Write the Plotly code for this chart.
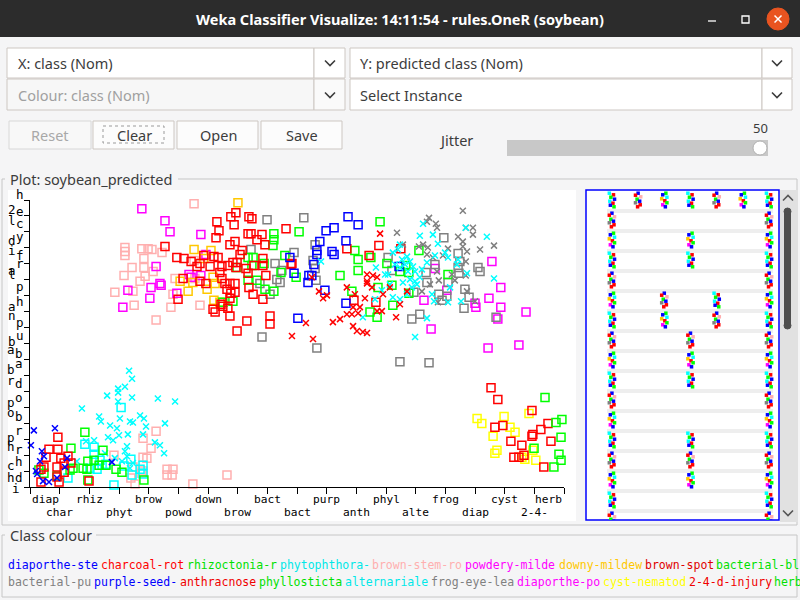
import plotly.graph_objects as go

W, H = 800, 600
BG = "#f5f5f6"
UI_FONT = "Noto Sans"
MONO = "DejaVu Sans Mono"

# ---- class axis labels (actual class on X) ----
x_labels = ["diap", "char", "rhiz", "phyt", "brow", "powd", "down", "brow", "bact", "bact",
            "purp", "anth", "phyl", "alte", "frog", "diap", "cyst", "2-4-", "herb"]

# y axis label fragments as Weka draws them (char, x px, y px)
y_label_bits = [("h", 20, 195), ("2", 12, 209), ("e", 20, 211), ("l", 12, 220), ("c", 20, 224),
                ("d", 12, 240), ("y", 20, 236), ("i", 12, 250), ("f", 20, 255), ("a", 12, 270),
                ("r", 20, 263), ("l", 12, 274), ("p", 20, 287), ("a", 12, 306), ("h", 20, 301),
                ("n", 12, 316), ("p", 20, 322), ("b", 12, 341), ("u", 20, 335), ("a", 11, 349),
                ("b", 19, 353), ("b", 11, 369), ("a", 19, 363), ("r", 11, 380), ("d", 19, 383),
                ("p", 11, 402), ("o", 19, 397), ("o", 11, 412), ("b", 19, 417), ("p", 11, 437),
                ("r", 19, 430), ("h", 11, 446), ("r", 19, 449), ("c", 11, 466), ("h", 19, 461),
                ("h", 11, 477), ("d", 19, 477), ("i", 16, 489)]

# ---- jittered points: x = actual class index, y = predicted class index ----
blue_cross_x = [0.13, 0.03, -0.03, 0.84, 0.40, 0.47, 0.20, 0.24, 0.64, 1.25, 1.18, 0.44, 0.91, 0.34, 2.76]
blue_cross_y = [3.55, 2.62, 1.50, 3.68, 2.24, 1.93, 1.00, 0.81, 0.31, 1.81, 1.25, 0.37, 0.56, 1.62, 1.56]

red_sq_low_x = [0.94, 0.64, 0.94, 0.54, 1.04, 1.28, 1.38, 1.15, 0.91, 0.47, 0.37, 1.15, 0.91, 0.37, 0.98, 1.99]
red_sq_low_y = [3.12, 2.37, 2.37, 1.87, 1.81, 1.93, 1.50, 1.50, 1.25, 1.25, 1.12, 0.93, 0.62, 0.31, 0.31, 0.37]

red_sq_up_x = [6.94, 6.77, 7.38, 7.48, 6.30, 6.88, 6.37, 7.35, 7.45, 7.82, 6.27, 7.65, 6.91, 6.74, 7.92,
               4.55, 7.15, 7.08, 4.95, 5.19, 5.86, 6.20, 6.34, 5.43, 5.73, 5.63, 6.07, 6.47, 6.67, 6.84,
               6.98, 6.94, 7.28, 7.85, 7.55, 7.85, 8.80, 8.63, 5.16, 5.73, 5.93, 6.40, 6.47, 6.57, 6.74,
               6.91, 7.35, 7.95, 7.38, 6.64, 6.77, 6.91, 6.74, 7.52, 7.85, 4.99, 6.44, 6.17, 6.67, 6.24,
               6.74, 7.31, 8.09, 8.09, 6.98, 6.50,
               11.76, 10.68, 12.50, 11.43, 10.92, 11.66, 8.83]
red_sq_up_y = [17.20, 16.95, 16.95, 16.82, 16.64, 16.45, 16.07, 15.89, 15.89, 15.83, 15.64, 15.51, 15.39, 15.20, 15.20,
               15.08, 14.83, 14.58, 14.39, 14.33, 14.52, 14.45, 14.39, 14.14, 14.02, 13.83, 13.83, 13.83, 13.89, 14.08,
               14.08, 13.77, 13.71, 14.33, 13.89, 13.89, 13.96, 16.20, 13.08, 12.90, 12.77, 13.46, 13.08, 12.77, 12.77,
               12.77, 13.40, 13.27, 12.52, 12.40, 12.15, 12.21, 11.84, 12.09, 11.78, 11.78, 11.46, 11.15, 11.21, 10.97,
               10.72, 10.41, 10.72, 10.22, 9.78, 11.34,
               15.14, 14.95, 14.95, 14.52, 11.71, 11.59, 14.02]

red_sq_right_x = [15.54, 15.77, 16.92, 15.94, 15.67, 17.46, 17.22, 16.95, 16.92, 16.21, 16.58, 17.56, 16.31, 16.48, 16.65, 17.32]
red_sq_right_y = [6.23, 5.48, 4.80, 3.86, 3.74, 3.99, 3.61, 3.30, 3.18, 2.87, 2.62, 2.87, 1.87, 1.87, 1.99, 1.25]

green_sq_low_x = [1.85, 1.38, 0.30, 0.47, 1.35, 1.45, 1.79, 1.92, 1.95, 2.46, 2.16, 2.33, 2.56, 2.90, 3.10, 3.84, 1.95, 0.91]
green_sq_low_y = [3.43, 2.43, 1.06, 0.87, 1.06, 1.18, 1.18, 1.12, 1.62, 2.31, 1.68, 1.37, 1.37, 1.12, 0.93, 0.44, 0.44, 0.69]

green_sq_up_x = [8.22, 8.22, 8.19, 9.07, 8.59, 7.35, 7.52, 7.48, 7.89, 7.35, 7.65, 8.46, 8.97, 6.98, 6.84, 8.22, 6.50, 7.92,
                 11.80, 10.95, 11.06, 11.06, 10.45, 11.49, 12.03, 12.67, 12.77, 12.47, 13.11, 12.20, 11.73, 10.85,
                 12.23, 11.46, 11.70, 14.09, 12.77]
green_sq_up_y = [15.89, 15.51, 15.14, 16.01, 14.52, 14.39, 14.39, 13.89, 14.02, 12.96, 12.96, 13.46, 13.15, 13.77, 11.65, 12.27, 11.59, 12.40,
                 16.64, 14.83, 14.27, 13.58, 13.27, 14.39, 14.02, 13.89, 13.46, 13.52, 14.83, 12.65, 12.52, 12.27,
                 11.40, 10.97, 10.65, 13.33, 12.15]

green_sq_right_x = [17.36, 17.73, 17.93, 17.90, 16.99, 17.83, 17.90, 17.66]
green_sq_right_y = [5.61, 4.05, 4.24, 3.12, 2.43, 2.06, 1.68, 1.25]

cyan_sq_x = [1.85, 2.16, 2.16, 2.36, 2.02, 2.26, 2.43, 2.56, 3.17, 3.40, 3.81, 3.71, 3.07, 1.28, 2.83, 3.44, 3.81]
cyan_sq_y = [2.68, 2.49, 2.06, 1.68, 1.18, 1.12, 1.37, 1.43, 1.31, 1.74, 1.37, 1.12, 4.98, 0.56, 0.12, 0.75, 0.81]

cyan_cross_low_x = [3.34, 3.44, 3.20, 2.97, 2.97, 3.44, 2.60, 4.31, 4.89, 2.97, 1.75, 3.03, 2.33, 2.39, 2.70,
                    2.93, 3.37, 3.47, 3.71, 3.84, 3.91, 4.55, 2.63, 2.80, 3.00, 3.30, 3.81, 4.21, 4.38, 4.52,
                    2.16, 1.89, 3.27, 3.20, 3.27, 2.86, 2.53, 3.10, 3.47, 3.37, 1.58]
cyan_cross_low_y = [7.29, 6.79, 6.29, 6.17, 5.92, 5.61, 5.73, 5.55, 5.36, 5.36, 4.92, 4.30, 4.42, 4.11, 3.86,
                    3.68, 4.11, 4.05, 4.49, 4.30, 3.80, 3.99, 3.12, 2.93, 3.24, 3.30, 3.30, 2.80, 2.62, 2.12,
                    2.93, 2.87, 2.55, 2.24, 1.93, 1.81, 2.12, 1.62, 1.50, 1.18, 1.62]

cyan_cross_up_x = [13.25, 13.14, 13.58, 13.75, 14.69, 15.40, 14.39, 14.43, 14.09, 13.99, 13.65, 11.66, 11.97, 12.47, 12.71,
                   12.81, 12.91, 12.98, 12.57, 12.71, 12.47, 12.13, 12.74, 13.04, 13.21, 13.38, 13.55, 13.62, 14.09, 14.53,
                   15.64, 14.73, 14.16, 13.38, 12.98, 9.81, 11.86, 12.23, 11.63, 11.22, 12.40, 12.23, 12.98, 12.47, 12.64,
                   12.30, 12.54, 12.81, 12.07, 13.14, 12.87]
cyan_cross_up_y = [16.51, 15.76, 15.83, 15.26, 16.26, 15.70, 13.96, 14.27, 14.39, 14.70, 14.52, 13.77, 13.33, 15.20, 14.45,
                   14.14, 13.83, 13.52, 12.83, 12.09, 11.78, 12.71, 13.52, 12.71, 13.65, 14.08, 12.09, 11.65, 11.59, 11.65,
                   13.08, 13.40, 12.52, 10.59, 9.41, 14.14, 12.34, 11.90, 11.78, 10.65, 14.89, 14.70, 12.90, 13.77, 13.96,
                   13.96, 14.27, 13.02, 13.33, 13.15, 12.52]

pink_sq_x = [2.83, 3.81, 4.25, 4.08, 3.81, 3.94, 3.47, 3.40, 3.54, 3.77, 4.62, 4.62, 4.82, 4.79, 5.49, 6.64, 3.81,
             5.53, 3.20, 3.20, 3.77, 3.98, 4.11, 4.45, 3.84, 3.44, 3.84, 4.15, 3.17, 3.88, 3.71, 2.86, 3.47,
             3.51, 4.75, 4.25, 5.73, 4.89, 4.82, 5.53, 5.56, 3.20]
pink_sq_y = [1.99, 3.05, 3.49, 2.43, 1.87, 1.81, 1.25, 0.56, 0.19, 0.87, 1.12, 0.75, 1.12, 0.75, 0.19, 0.75, 1.00,
             17.76, 15.02, 14.52, 14.95, 14.95, 14.89, 14.70, 14.33, 13.77, 13.77, 13.52, 13.27, 13.21, 12.90, 12.21, 12.27,
             11.40, 11.28, 10.47, 11.40, 13.08, 12.09, 14.21, 13.08, 14.77]

magenta_sq_x = [3.77, 4.55, 4.72, 5.76, 4.25, 5.36, 5.76, 4.38, 4.42, 4.08, 3.30, 4.04, 3.13, 4.95, 5.43, 5.93,
                15.57, 15.87, 15.47, 15.87, 15.00, 15.03, 16.72, 15.77, 13.52, 15.44, 16.48, 13.65, 14.05, 13.28]
magenta_sq_y = [17.45, 16.70, 16.01, 15.83, 13.83, 13.33, 13.27, 12.77, 12.65, 12.52, 12.34, 11.84, 11.28, 12.15, 13.15, 14.58,
                14.14, 12.52, 11.84, 11.28, 11.53, 11.28, 10.97, 10.53, 9.91, 8.72, 8.91, 13.71, 12.34, 11.71]

orange_sq_x = [7.01, 5.53, 6.10, 5.49, 5.06, 5.33, 5.97, 6.17, 6.24, 6.20, 6.40, 5.86]
orange_sq_y = [17.82, 14.89, 14.83, 12.83, 12.90, 12.27, 12.40, 13.15, 12.77, 11.71, 11.59, 14.33]

gray_sq_x = [7.99, 7.45, 8.90, 8.26, 8.49, 8.32, 8.43, 7.75, 8.09, 7.82,
             9.23, 9.61, 9.54, 9.61, 9.64, 12.07, 12.20, 13.95, 13.65, 13.35, 13.38, 12.94, 13.78, 13.89, 14.05,
             14.43, 14.49, 14.43, 14.46, 14.09, 15.10, 15.17, 14.66, 14.80, 14.63, 13.14, 12.87, 15.71, 9.67, 12.47, 13.45]
gray_sq_y = [16.76, 14.89, 14.70, 14.02, 13.58, 13.02, 12.83, 12.77, 12.09, 9.41,
             16.88, 15.20, 14.21, 13.71, 12.96, 14.39, 13.58, 15.64, 13.96, 13.46, 12.83, 12.21, 12.09, 11.71, 11.96,
             14.64, 14.14, 13.77, 13.40, 12.83, 13.77, 13.52, 12.40, 11.90, 11.21, 10.84, 10.53, 10.65, 8.72, 7.85, 7.79]

blue_sq_x = [8.76, 8.90, 9.03, 10.72, 10.25, 9.98, 11.06, 9.77, 10.65, 9.67, 9.67, 10.18, 10.25, 9.57, 9.40,
             9.50, 9.37, 9.94, 10.65, 12.44]
blue_sq_y = [14.39, 13.40, 10.59, 16.95, 16.26, 16.07, 16.45, 15.39, 15.45, 14.83, 14.58, 14.77, 14.58, 13.96, 13.27,
             13.27, 12.83, 12.34, 11.53, 13.83]

gray_cross_x = [14.59, 13.45, 13.38, 13.68, 13.72, 12.37, 14.69, 14.93, 14.93, 14.43, 14.59, 14.59, 14.73, 15.64, 15.17,
                14.09, 13.92, 13.25, 13.41, 13.38, 13.58, 13.11, 12.57, 13.78, 14.32, 14.69, 14.69, 14.73, 15.00, 13.75,
                13.48, 13.21, 14.22, 13.72]
gray_cross_y = [17.32, 16.88, 16.64, 16.51, 16.26, 15.95, 16.26, 16.26, 15.83, 15.70, 15.39, 15.08, 14.77, 15.14, 14.89,
                14.95, 14.52, 15.20, 15.02, 14.58, 14.39, 15.08, 15.20, 12.96, 12.96, 13.27, 14.14, 12.27, 11.65, 11.59,
                12.71, 12.27, 13.33, 13.52]

red_cross_x = [11.80, 11.36, 11.36, 11.56, 11.70, 11.53, 11.90, 12.13, 12.71, 12.47, 10.95, 10.68, 10.89, 11.12, 11.29,
               11.86, 11.06, 10.68, 10.85, 10.45, 10.21, 10.89, 11.02, 11.22, 11.36, 12.34, 9.74, 9.88, 10.01, 9.30,
               9.54, 8.83, 9.50, 11.36, 11.70]
red_cross_y = [15.89, 13.33, 12.90, 13.27, 13.15, 12.52, 12.09, 12.52, 12.27, 11.46, 12.09, 12.52, 11.28, 11.28, 11.84,
               11.03, 10.90, 10.84, 10.84, 10.53, 10.34, 10.09, 9.78, 9.72, 9.66, 10.65, 12.27, 11.84, 12.02, 10.28,
               9.28, 9.47, 13.15, 12.77, 11.03]

yellow_sq_x = [15.07, 15.23, 15.98, 16.18, 16.35, 15.61, 15.74, 15.67, 16.82, 16.95, 16.68, 17.05, 16.58]
yellow_sq_y = [4.30, 3.99, 4.42, 3.74, 3.43, 3.18, 2.31, 2.12, 4.61, 2.31, 1.74, 1.68, 1.87]

# ---- class colour legend ----
legend_row1 = ["diaporthe-ste", "charcoal-rot", "rhizoctonia-r", "phytophthora-", "brown-stem-ro",
               "powdery-milde", "downy-mildew", "brown-spot", "bacterial-bl"]
legend_row1_col = ["#0000ff", "#ff0000", "#00e000", "#00e8e8", "#ffafaf", "#ff00ff", "#ffc800", "#e00000", "#00e000"]
legend_row1_x = [6, 99, 185, 278, 370, 463, 557, 643, 714]
legend_row2 = ["bacterial-pu", "purple-seed-", "anthracnose", "phyllosticta", "alternariale",
               "frog-eye-lea", "diaporthe-po", "cyst-nematod", "2-4-d-injury", "herbicide-in"]
legend_row2_col = ["#808080", "#0000ff", "#f00000", "#00e000", "#00e8e8", "#808080", "#ff00ff", "#ffff00", "#f00000", "#00e000"]
legend_row2_x = [6, 92, 178, 257, 343, 429, 515, 601, 687, 772]

# ---- attribute panel (right): clusters per row, by column ----
attr_rows = [[0, 1, 2, 3, 4, 5, 6], [0, 6], [0, 3, 6], [0, 3, 6], [0, 6], [0, 2, 4, 6], [0, 2, 4, 6],
             [0, 3, 6], [0, 3, 6], [0, 3, 6], [0, 6], [0, 6], [0, 3, 6], [0, 3, 6], [0, 3, 6], [0, 6], [0, 6]]
attr_patterns = [
    [(-0.1, -0.34, "#00ffff"), (0.06, -0.26, "#ff0000"), (-0.04, -0.14, "#00ff00"), (0.1, -0.04, "#0000ff"),
     (-0.08, 0.06, "#00ffff"), (0.04, 0.16, "#ff0000"), (-0.06, 0.26, "#0000ff"), (0.08, 0.34, "#00ff00")],
    [(0.0, -0.34, "#0000ff"), (-0.1, -0.24, "#ff0000"), (0.1, -0.16, "#ffafaf"), (-0.04, -0.04, "#00ff00"),
     (0.06, 0.06, "#0000ff"), (-0.1, 0.14, "#808080"), (0.08, 0.24, "#ff0000"), (-0.02, 0.34, "#ff0000")],
    [(0.06, -0.34, "#00ff00"), (-0.06, -0.26, "#0000ff"), (0.1, -0.14, "#00ffff"), (-0.1, -0.06, "#ffc800"),
     (0.02, 0.04, "#ff0000"), (0.1, 0.14, "#00ff00"), (-0.06, 0.24, "#ff00ff"), (0.04, 0.34, "#0000ff")],
]

shapes = []
annotations = []


def box(x0, y0, x1, y1, fill=None, line=None, lw=1, dash=None):
    shapes.append(dict(type="rect", xref="paper", yref="paper",
                       x0=x0 / W, x1=x1 / W, y0=1 - y0 / H, y1=1 - y1 / H,
                       fillcolor=fill or "rgba(0,0,0,0)",
                       line=dict(color=line or "rgba(0,0,0,0)", width=lw if line else 0, dash=dash),
                       layer="below"))


def circle(x0, y0, x1, y1, fill, line=None, lw=1):
    shapes.append(dict(type="circle", xref="paper", yref="paper",
                       x0=x0 / W, x1=x1 / W, y0=1 - y0 / H, y1=1 - y1 / H,
                       fillcolor=fill, line=dict(color=line or fill, width=lw), layer="below"))


def polyline(pts, color, lw=1):
    d = "M " + " L ".join(f"{x / W:.5f},{1 - y / H:.5f}" for x, y in pts)
    shapes.append(dict(type="path", xref="paper", yref="paper", path=d,
                       line=dict(color=color, width=lw), layer="below"))


def text(s, x, y, size=14.5, color="#3c3c3c", anchor="left", family=UI_FONT, weight="normal"):
    annotations.append(dict(text=s, x=x / W, y=1 - y / H, xref="paper", yref="paper",
                            xanchor=anchor, yanchor="middle", showarrow=False,
                            font=dict(family=family, size=size, color=color, weight=weight)))


def chevron(cx, cy, up=False, color="#3c3c3c"):
    h = -2.5 if up else 2.5
    polyline([(cx - 5, cy - h), (cx, cy + h), (cx + 5, cy - h)], color, 1.6)


# ---- window chrome ----
box(0, 0, 800, 37, fill="#2c2c2c")
text("Weka Classifier Visualize: 14:11:54 - rules.OneR (soybean)", 400, 19, size=14.5,
     color="white", anchor="center", weight="bold")
polyline([(708, 21), (716, 21)], "white", 1.3)
box(742, 16, 749, 23, line="white", lw=1.3)
circle(767, 8, 789, 30, "#e95420")
polyline([(774.5, 15.5), (781.5, 22.5)], "white", 1.5)
polyline([(781.5, 15.5), (774.5, 22.5)], "white", 1.5)

# ---- combo boxes ----
BORDER = "#cdc7c2"
box(7, 48, 314, 78, fill="white", line=BORDER)
box(314, 48, 345, 78, fill="white", line=BORDER)
box(350, 48, 762, 78, fill="white", line=BORDER)
box(762, 48, 792, 78, fill="white", line=BORDER)
box(7, 79, 314, 110, fill="#f7f7f7", line=BORDER)
box(314, 79, 345, 110, fill="#fafafa", line=BORDER)
box(350, 79, 762, 110, fill="white", line=BORDER)
box(762, 79, 792, 110, fill="white", line=BORDER)
text("X: class (Nom)", 16, 63)
text("Y: predicted class (Nom)", 358, 63)
text("Colour: class (Nom)", 16, 95, color="#a0a0a0")
text("Select Instance", 358, 95)
for cx, cy in [(330, 63), (330, 95), (777, 63), (777, 95)]:
    chevron(cx, cy)

# ---- buttons ----
box(9, 121, 91, 149, fill="#f8f8f8", line="#d8d8d8")
box(93, 121, 174, 149, fill="#fcfcfc", line=BORDER)
box(177, 121, 258, 149, fill="#fcfcfc", line=BORDER)
box(261, 121, 342, 149, fill="#fcfcfc", line=BORDER)
box(103, 126, 164, 143, line="#9a9a9a", lw=1, dash="dot")
text("Reset", 50, 135, color="#a8a8a8", anchor="center")
text("Clear", 134, 135, anchor="center")
text("Open", 218, 135, anchor="center")
text("Save", 302, 135, anchor="center")

# ---- jitter slider ----
text("Jitter", 456, 140, anchor="center")
text("50", 760, 128, size=13, anchor="center")
box(507, 140, 768, 156, fill="#c8c8c8")
circle(753, 141, 767, 155, "white", line="#b0b0b0")

# ---- plot panel with titled border ----
PANEL = "#c6c6c6"
polyline([(178, 179), (797, 179), (797, 525), (2, 525), (2, 179), (5, 179)], PANEL, 1)
text("Plot: soybean_predicted", 8, 179)
box(8, 190, 576, 521, fill="white")

# attribute panel frame and scrollbar
box(586, 190, 779, 520, fill="white", line="#0000ff", lw=1.5)
box(780, 190, 798, 522, fill="#e1e1e1")
box(784, 212, 791, 325, fill="#4f4f4f")
circle(784, 208, 791, 215, "#4f4f4f")
circle(784, 322, 791, 329, "#4f4f4f")
chevron(788, 198, up=True, color="#555555")
chevron(788, 513, color="#555555")

# ---- class colour panel ----
polyline([(96, 535), (797, 535), (797, 597), (2, 597), (2, 535), (5, 535)], PANEL, 1)
text("Class colour", 8, 535)
for name, col, x in zip(legend_row1, legend_row1_col, legend_row1_x):
    text(name, x, 565, size=11.5, color=col, family=MONO)
for name, col, x in zip(legend_row2, legend_row2_col, legend_row2_x):
    text(name, x, 581.5, size=11.5, color=col, family=MONO)

# ---- axis labels ----
for i, lab in enumerate(x_labels):
    anchor = "left" if i == 0 else ("right" if i == len(x_labels) - 1 else "center")
    row_y = 499 if i % 2 == 0 else 512
    annotations.append(dict(text=lab, x=i, y=1 - row_y / H, xref="x", yref="paper",
                            xanchor=anchor, yanchor="middle", showarrow=False,
                            font=dict(family=MONO, size=11.2, color="black")))
for ch, x, y in y_label_bits:
    text(ch, x, y, size=12.5, color="black", anchor="center", family=MONO)

# ---- scatter traces ----
fig = go.Figure()

groups = [
    (pink_sq_x, pink_sq_y, "#ffafaf", "square-open"),
    (magenta_sq_x, magenta_sq_y, "#ff00ff", "square-open"),
    (orange_sq_x, orange_sq_y, "#ffc800", "square-open"),
    (gray_sq_x, gray_sq_y, "#808080", "square-open"),
    (green_sq_up_x, green_sq_up_y, "#00ff00", "square-open"),
    (red_sq_up_x, red_sq_up_y, "#ff0000", "square-open"),
    (blue_sq_x, blue_sq_y, "#0000ff", "square-open"),
    (gray_cross_x, gray_cross_y, "#808080", "x-thin-open"),
    (cyan_cross_up_x, cyan_cross_up_y, "#00ffff", "x-thin-open"),
    (red_cross_x, red_cross_y, "#ff0000", "x-thin-open"),
    (cyan_cross_low_x, cyan_cross_low_y, "#00ffff", "x-thin-open"),
    (cyan_sq_x, cyan_sq_y, "#00ffff", "square-open"),
    (green_sq_low_x, green_sq_low_y, "#00ff00", "square-open"),
    (red_sq_low_x, red_sq_low_y, "#ff0000", "square-open"),
    (blue_cross_x, blue_cross_y, "#0000ff", "x-thin-open"),
    (yellow_sq_x, yellow_sq_y, "#ffff00", "square-open"),
    (red_sq_right_x, red_sq_right_y, "#ff0000", "square-open"),
    (green_sq_right_x, green_sq_right_y, "#00ff00", "square-open"),
]
for xs, ys, col, sym in groups:
    is_sq = sym.startswith("square")
    fig.add_trace(go.Scatter(x=xs, y=ys, mode="markers", cliponaxis=False, hoverinfo="skip",
                             marker=dict(symbol=sym, size=8 if is_sq else 6, color=col,
                                         line=dict(color=col, width=1.5))))

# attribute panel dots
ax, ay, ac = [], [], []
for k, cols in enumerate(attr_rows):
    for c in cols:
        for dx, dy, col in attr_patterns[(c + k) % 3]:
            ax.append(c + dx)
            ay.append(k + dy)
            ac.append(col)
fig.add_trace(go.Scatter(x=ax, y=ay, mode="markers", xaxis="x2", yaxis="y2", hoverinfo="skip",
                         marker=dict(symbol="square", size=3.5, color=ac, line=dict(width=0))))

for k in range(len(attr_rows)):
    shapes.append(dict(type="rect", xref="x2", yref="y2", x0=-0.19, x1=6.15, y0=k + 0.45, y1=k + 0.65,
                       fillcolor="#eeeeee", line=dict(width=0), layer="below"))

fig.update_layout(
    width=W, height=H, margin=dict(l=0, r=0, t=0, b=0),
    paper_bgcolor=BG, plot_bgcolor="rgba(0,0,0,0)", showlegend=False,
    xaxis=dict(domain=[30 / W, 564 / W], range=[0, 18], anchor="y",
               showline=True, linecolor="black", linewidth=1, mirror=False,
               ticks="outside", ticklen=6, tickcolor="black", tickwidth=1,
               tickvals=list(range(19)), showticklabels=False,
               showgrid=False, zeroline=False, fixedrange=True),
    yaxis=dict(domain=[1 - 487 / H, 1 - 200 / H], range=[0, 18], anchor="x",
               showline=True, linecolor="black", linewidth=1,
               ticks="outside", ticklen=5, tickcolor="black", tickwidth=1,
               tickvals=list(range(19)), showticklabels=False,
               showgrid=False, zeroline=False, fixedrange=True),
    xaxis2=dict(domain=[586 / W, 779 / W], range=[-0.99, 6.38], anchor="y2", visible=False, fixedrange=True),
    yaxis2=dict(domain=[1 - 520 / H, 1 - 190 / H], range=[16.0, -0.5], anchor="x2", visible=False, fixedrange=True),
    shapes=shapes, annotations=annotations,
)

fig.write_html("out.html", config={"displayModeBar": False},
               post_script="document.body.style.margin='0px';document.body.style.overflow='hidden';")
